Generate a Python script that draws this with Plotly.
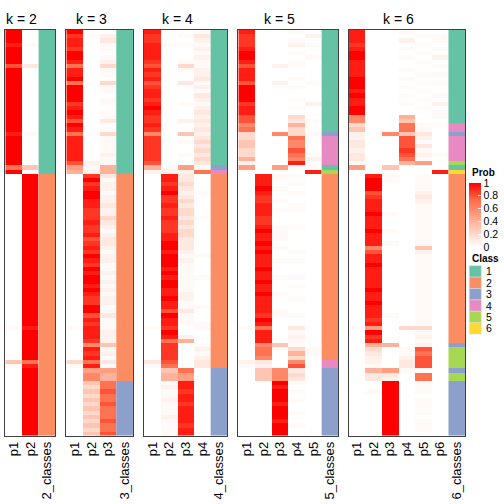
import plotly.graph_objects as go

# ---- data: membership probabilities, one char per sample row (level codes) ----
LEVELS = {'0': 0.0, '1': 0.03, '2': 0.07, '3': 0.12, '4': 0.2, '5': 0.3, '6': 0.4,
          '7': 0.5, '8': 0.6, '9': 0.7, 'a': 0.8, 'b': 0.87, 'c': 0.93, 'd': 1.0}

K2_P1 = ("dddcddddad" "dddddddddd" "ddddcddddd" "dd9d000000" "0000000000"
         "0000000000" "0000000000" "1000000051" "0000000000" "000000")
K2_P2 = ("0001000030" "0000000000" "0000100000" "0050dddddd" "dddddddddd"
         "dddddddddd" "dddddddddd" "cddddddd9c" "dddddddddd" "dddddd")
K2_CLASS = ("1111111111" "1111111111" "1111111111" "1111222222" "2222222222"
            "2222222222" "2222222222" "2222222222" "2222222222" "222222")

K3_P1 = ("dbccbddc9c" "cd9ddddbcd" "cadc9ccccc" "ca76000000" "0000000000"
         "0000000000" "0000000000" "1000000041" "0000000000" "000000")
K3_P2 = ("0100000000" "0000000000" "0000000000" "0212bdbcdd" "ccbbbcbbca"
         "bcbdcbdcdd" "cdcbbddacb" "cccb8cbc9c" "7885454545" "454545")
K3_P3 = ("0231101241" "1041101101" "1301411112" "1166312212" "2322432123"
         "3212211212" "1212211311" "1222512131" "76699a99a9" "99a99a")
K3_CLASS = ("1111111111" "1111111111" "1111111111" "1111222222" "2222222222"
            "2222222222" "2222222222" "2222222222" "2223333333" "333333")

K4_P1 = ("cbbccccbac" "bcabccbcdc" "bbcb8bbbbb" "ba62000000" "0000000000"
         "0000000000" "0000000000" "1000000031" "0000000000" "000000")
K4_P2 = ("0001000000" "0000000000" "0000000000" "0012ccbcdb" "bcbbcbbbcc"
         "ddcdddcdcd" "dccdccadcc" "bdc9bbbba9" "5661211211" "121111")
K4_P3 = ("0101000141" "0030000100" "0200501001" "0072334323" "4344343443"
         "3321211111" "1122113111" "0026000000" "977ccbccbc" "cccbcc")
K4_P4 = ("1321212112" "2312132123" "2323234343" "4319000010" "0000100000"
         "0001000010" "0000010001" "1000121233" "0000000000" "000000")
K4_CLASS = ("1111111111" "1111111111" "1111111111" "1134222222" "2222222222"
            "2222222222" "2222222222" "2222222222" "3333333333" "333333")

K5_P1 = ("cbbbcddcac" "ccaddddbcc" "aa89445544" "6270000000" "0000000000"
         "0000000000" "0000000000" "1000000021" "0000000000" "000000")
K5_P2 = ("0000000000" "0000000000" "0000000000" "0000cccdcb" "bcccbbcdcc"
         "dcdcccdccd" "ccdccccbdc" "9ccc899832" "5550000000" "000000")
K5_P3 = ("0000000020" "0020000000" "0000800000" "0070110100" "1010001111"
         "0100100010" "0010001100" "0000510000" "888dcdddcd" "ddcddd")
K5_P4 = ("1012010110" "0101001010" "43644988a9" "8c10101010" "0110001000"
         "0010100010" "1001000100" "312114648a" "3431010100" "100100")
K5_P5 = ("0201001000" "0010000200" "0100100001" "200c000000" "0000000000"
         "0000000000" "0000000000" "0000011000" "0000000000" "000000")
K5_CLASS = ("1111111111" "1111111111" "1111344444" "4415222222" "2222222222"
            "2222222222" "2222222222" "2222222244" "3333333333" "333333")

K6_P1 = ("cccbcddccc" "cdddcdccdd" "8845223323" "3170000000" "0000000000"
         "0000000000" "0000000000" "1000000000" "0000000000" "000000")
K6_P2 = ("0000000000" "0000000000" "0000000000" "0000cdddab" "cccdcccdcc"
         "c8accdcccc" "cdccdcccbc" "7dbc643221" "6330010000" "000000")
K6_P3 = ("0000000000" "0000000000" "0000800000" "0050110000" "0001000100"
         "1000000000" "0000000100" "0000600000" "732ddddddd" "dddddd")
K6_P4 = ("1020101001" "0101010100" "65995aaaba" "9600000000" "0000000000"
         "0000000000" "0000000000" "4000011233" "1000000000" "000000")
K6_P5 = ("0101010100" "1010101010" "0011321312" "1700111123" "2111111111"
         "1521111111" "1111111111" "41212a9aaa" "1991110111" "101110")
K6_P6 = ("0110102010" "1010010201" "1010000001" "000c000000" "0000000000"
         "0000000000" "0000000000" "0000000000" "0000000000" "000000")
K6_CLASS = ("1111111111" "1111111111" "1144344444" "4516222222" "2222222222"
            "2222222222" "2222222222" "2222355555" "3553333333" "333333")

CLASS_LABELS = ["1", "2", "3", "4", "5", "6"]
PROB_TICKS = [0, 0.2, 0.4, 0.6, 0.8, 1]
PROB_TICKTEXT = ["0", "0.2", "0.4", "0.6", "0.8", "1"]

# ---- styling ----
W = H = 504
FONT = "Liberation Sans, Arial, Helvetica, sans-serif"
CLASS_COLORS = ["#66C2A5", "#FC8D62", "#8DA0CB", "#E78AC3", "#A6D854", "#FFD92F"]
PROB_SCALE = [[0, "#FFFFFF"], [0.25, "#FFCFBF"], [0.5, "#FF9E81"], [0.75, "#FF6746"], [1, "#FF0000"]]
CLASS_SCALE = []
for i, c in enumerate(CLASS_COLORS):
    CLASS_SCALE.append([i / 6, c])
    CLASS_SCALE.append([(i + 1) / 6, c])


def fx(p):
    return p / W


def fy(p):
    return 1 - p / H


PANELS = [
    (2, [K2_P1, K2_P2], K2_CLASS),
    (3, [K3_P1, K3_P2, K3_P3], K3_CLASS),
    (4, [K4_P1, K4_P2, K4_P3, K4_P4], K4_CLASS),
    (5, [K5_P1, K5_P2, K5_P3, K5_P4, K5_P5], K5_CLASS),
    (6, [K6_P1, K6_P2, K6_P3, K6_P4, K6_P5, K6_P6], K6_CLASS),
]
PANEL_LEFT = [5.3, 66.3, 144.0, 238.3, 348.5]
CELL_W = 50 / 3
TOP, BOTTOM = 30.0, 435.5

fig = go.Figure()
annotations = []
for idx, (k, cols, cls) in enumerate(PANELS):
    n = len(cls)
    for c in cols:
        assert len(c) == n
    sfx = "" if idx == 0 else str(idx + 1)
    xa, ya = "x" + sfx, "y" + sfx
    z = [[LEVELS[c[r]] for c in cols] for r in range(n)]
    fig.add_trace(go.Heatmap(z=z, x=list(range(k)), y=list(range(n)),
                             coloraxis="coloraxis", xaxis=xa, yaxis=ya, hoverinfo="skip"))
    zc = [[int(cls[r])] for r in range(n)]
    fig.add_trace(go.Heatmap(z=zc, x=[k], y=list(range(n)), colorscale=CLASS_SCALE,
                             zmin=0.5, zmax=6.5, showscale=False, xaxis=xa, yaxis=ya,
                             hoverinfo="skip"))
    left = PANEL_LEFT[idx]
    right = left + CELL_W * (k + 1)
    fig.layout["xaxis" + sfx] = dict(
        domain=[fx(left), fx(right)], range=[-0.5, k + 0.5],
        tickvals=list(range(k + 1)),
        ticktext=[f"p{i + 1}" for i in range(k)] + [f"{k}_classes"],
        tickangle=-90, showgrid=False, zeroline=False, showline=True, mirror=True,
        linecolor="#404040", linewidth=1, ticks="", anchor=ya, fixedrange=True,
        automargin=False,
        tickfont=dict(size=13, family=FONT, color="black"))
    fig.layout["yaxis" + sfx] = dict(
        domain=[fy(BOTTOM), fy(TOP)], range=[n - 0.5, -0.5],
        showticklabels=False, showgrid=False, zeroline=False, showline=True,
        mirror=True, linecolor="#404040", linewidth=1, ticks="", anchor=xa,
        fixedrange=True, automargin=False)
    cx = left + CELL_W * k / 2
    annotations.append(dict(text=f"k = {k}", x=fx(cx), y=fy(19), xref="paper",
                            yref="paper", showarrow=False, xanchor="center",
                            yanchor="middle", font=dict(size=14, family=FONT, color="black")))

# legend titles
annotations.append(dict(text="<b>Prob</b>", x=fx(469.5), y=fy(172.5), xref="paper", yref="paper",
                        showarrow=False, xanchor="left", yanchor="middle",
                        font=dict(size=10, family=FONT, color="black")))
annotations.append(dict(text="<b>Class</b>", x=fx(469.5), y=fy(258.5), xref="paper", yref="paper",
                        showarrow=False, xanchor="left", yanchor="middle",
                        font=dict(size=10, family=FONT, color="black")))

shapes = []
BOX_TOP, BOX_H = 265.7, 11.4
for i, (lab, col) in enumerate(zip(CLASS_LABELS, CLASS_COLORS)):
    y0 = BOX_TOP + i * BOX_H
    shapes.append(dict(type="rect", xref="paper", yref="paper", x0=fx(469.3), x1=fx(481.3),
                       y0=fy(y0 + BOX_H), y1=fy(y0), fillcolor=col,
                       line=dict(color="#dddddd", width=0.5)))
    annotations.append(dict(text=lab, x=fx(483.5), y=fy(y0 + BOX_H / 2), xref="paper",
                            yref="paper", showarrow=False, xanchor="left", yanchor="middle",
                            font=dict(size=10.5, family=FONT, color="black")))

fig.update_layout(
    width=W, height=H, autosize=False,
    margin=dict(l=0, r=0, t=0, b=0, autoexpand=False),
    paper_bgcolor="white", plot_bgcolor="white",
    showlegend=False,
    coloraxis=dict(cmin=0, cmax=1, colorscale=PROB_SCALE,
                   colorbar=dict(x=fx(469.3), xanchor="left", xpad=0, ypad=0,
                                 y=fy(183), yanchor="top", len=64, lenmode="pixels",
                                 thickness=12, thicknessmode="pixels", outlinewidth=0,
                                 tickvals=PROB_TICKS, ticktext=PROB_TICKTEXT,
                                 ticks="inside", ticklen=3, tickcolor="white",
                                 tickfont=dict(size=10.5, family=FONT, color="black"))),
    annotations=annotations, shapes=shapes,
)

fig.write_html("out.html", config={"displayModeBar": False},
               post_script="document.body.style.margin='0';document.body.style.padding='0';")
